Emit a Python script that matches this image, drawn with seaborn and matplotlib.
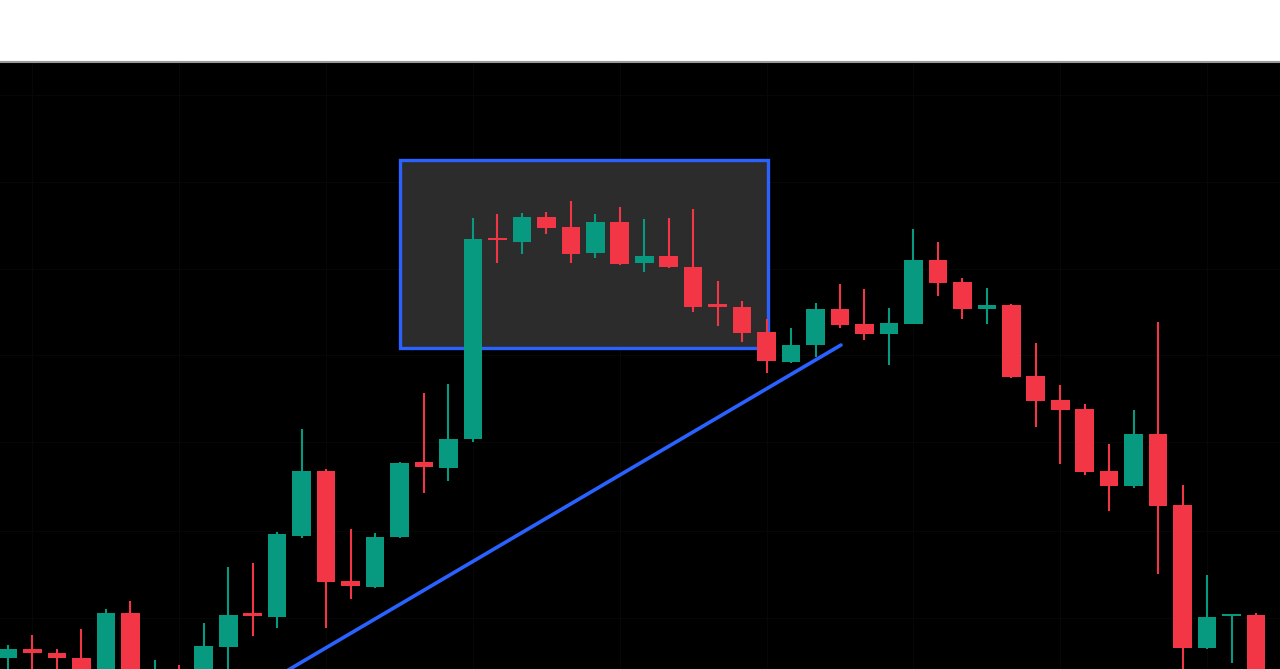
import numpy as np
import pandas as pd
import matplotlib
matplotlib.use('Agg')
import matplotlib.pyplot as plt
from matplotlib.patches import Rectangle
import seaborn as sns

# ── candle data (one row per bar) ──
opens = [104.2, 105.1, 104.7, 104.2, 101.0, 108.7, 100.0, 102.8, 102.0, 105.3,
         108.7, 108.3, 116.4, 122.9, 111.9, 111.3, 116.3, 123.8, 123.2, 126.1,
         146.2, 145.8, 148.3, 147.3, 144.7, 147.8, 143.7, 144.4, 143.3, 139.6,
         139.3, 136.8, 133.8, 135.5, 139.1, 137.6, 136.6, 137.6, 144.0, 141.8,
         139.1, 139.5, 132.4, 130.0, 129.1, 122.9, 121.4, 126.6, 119.5, 105.2,
         108.4, 108.5]
highs = [105.5, 106.5, 105.1, 107.1, 109.1, 109.9, 104.0, 103.5, 107.7, 113.3,
         113.7, 116.8, 127.1, 123.1, 117.1, 116.7, 123.8, 130.7, 131.6, 148.2,
         148.6, 148.7, 148.8, 149.9, 148.6, 149.3, 148.1, 148.2, 149.1, 141.9,
         139.9, 138.1, 137.2, 139.7, 141.6, 141.1, 139.2, 147.1, 145.8, 142.2,
         141.2, 139.6, 135.7, 131.5, 129.6, 125.6, 129.0, 137.8, 121.5, 112.5,
         108.6, 108.7]
lows = [102.8, 102.6, 102.7, 101.0, 100.5, 99.5, 99.5, 99.5, 101.0, 102.8,
        106.4, 107.2, 116.2, 107.2, 110.1, 111.2, 116.2, 120.7, 121.9, 125.8,
        143.7, 144.6, 146.6, 143.7, 144.2, 143.5, 142.8, 143.2, 138.8, 137.4,
        135.8, 132.7, 133.7, 134.3, 137.2, 136.0, 133.5, 137.6, 140.4, 138.1,
        137.6, 132.2, 127.3, 123.6, 122.5, 118.9, 121.2, 112.6, 102.0, 105.1,
        103.7, 100.0]
closes = [105.1, 104.7, 104.2, 101.5, 108.7, 100.0, 102.8, 100.0, 105.4, 108.5,
          108.4, 116.6, 122.9, 111.8, 111.4, 116.3, 123.7, 123.3, 126.1, 146.1,
          146.0, 148.3, 147.2, 144.6, 147.8, 143.6, 144.4, 143.3, 139.3, 139.3,
          136.7, 133.9, 135.5, 139.1, 137.5, 136.6, 137.7, 144.0, 141.7, 139.1,
          139.5, 132.3, 129.9, 129.0, 122.8, 121.4, 126.6, 119.4, 105.2, 108.3,
          108.6, 101.0]

# ── annotations ──
box_x = [16.0, 31.05]
box_y = [135.2, 154.0]
trend_x = [11.0, 34.04]
trend_y = [102.35, 135.5]

df = pd.DataFrame({'open': opens, 'high': highs, 'low': lows, 'close': closes})
df['idx'] = np.arange(len(df))
df['up'] = df['close'] >= df['open']

UP = '#089981'
DOWN = '#f23645'
BLUE = '#2962ff'

sns.set_theme(style='dark', rc={'axes.facecolor': '#000000',
                                'figure.facecolor': '#ffffff',
                                'axes.grid': False})

fig = plt.figure(figsize=(12.8, 6.69), dpi=100)
ax = fig.add_axes([0, 0, 1, 607 / 669])
ax.set_facecolor('#000000')

# very faint grid
for gx in [1, 7, 13, 19, 25, 31, 37, 43, 49]:
    ax.axvline(gx, color='#070707', lw=0.8, zorder=0)
for gy in [108.2, 116.9, 125.8, 134.5, 143.1, 151.8, 160.5]:
    ax.axhline(gy, color='#070707', lw=0.8, zorder=0)

# highlighted range box
ax.add_patch(Rectangle((box_x[0], box_y[0]), box_x[1] - box_x[0], box_y[1] - box_y[0],
                       facecolor='#2c2c2c', edgecolor=BLUE, linewidth=2.4, zorder=1))

# candles
colors = np.where(df['up'], UP, DOWN)
ax.vlines(df['idx'], df['low'], df['high'], colors=colors, linewidth=1.5, zorder=3)
body_lo = np.minimum(df['open'], df['close'])
body_h = np.maximum(np.abs(df['close'] - df['open']), 0.2)
ax.bar(df['idx'], body_h, bottom=body_lo, width=0.76, color=colors,
       linewidth=0, zorder=4)

# trendline
sns.lineplot(x=trend_x, y=trend_y, ax=ax, color=BLUE, linewidth=2.6, zorder=2)

ax.set_xlim(-0.327, 51.98)
ax.set_ylim(103.1, 163.8)
ax.set_xticks([])
ax.set_yticks([])
for side in ['left', 'right', 'bottom']:
    ax.spines[side].set_visible(False)
ax.spines['top'].set_color('#9a9a9a')
ax.spines['top'].set_linewidth(1.5)

plt.savefig('out.png', dpi=100, facecolor='#ffffff')
plt.close()
